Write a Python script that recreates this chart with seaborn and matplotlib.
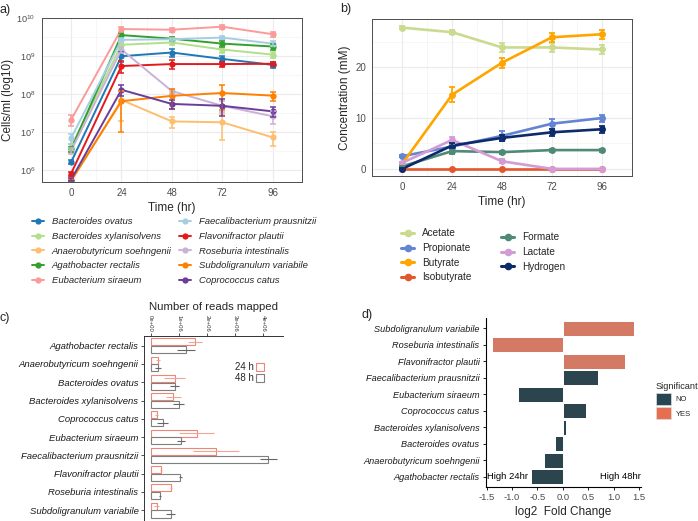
import numpy as np
import pandas as pd
import matplotlib
matplotlib.use('Agg')
import matplotlib.pyplot as plt
import seaborn as sns
from matplotlib.lines import Line2D
from matplotlib.patches import Patch
from matplotlib.ticker import FixedLocator, FuncFormatter, NullFormatter

# ---------------- data ----------------
time_hr = [0, 24, 48, 72, 96]

species_a = ['Bacteroides ovatus', 'Bacteroides xylanisolvens', 'Anaerobutyricum soehngenii',
             'Agathobacter rectalis', 'Eubacterium siraeum', 'Faecalibacterium prausnitzii',
             'Flavonifractor plautii', 'Roseburia intestinalis', 'Subdoligranulum variabile',
             'Coprococcus catus']
colors_a = ['#1F78B4', '#B2DF8A', '#FDBF6F', '#33A02C', '#FB9A99', '#A6CEE3',
            '#E31A1C', '#CAB2D6', '#FF7F00', '#6A3D9A']

cells_b_ovatus = [1.6e6, 1.0e9, 1.25e9, 8.5e8, 5.9e8]
cells_b_xylan = [4.0e6, 2.0e9, 2.3e9, 1.5e9, 1.1e9]
cells_anaero = [5.0e5, 7.0e7, 1.9e7, 1.8e7, 7.2e6]
cells_agatho = [3.5e6, 3.6e9, 2.9e9, 2.15e9, 1.8e9]
cells_eubac = [2.1e7, 5.2e9, 5.0e9, 6.0e9, 3.8e9]
cells_faecali = [6.9e6, 2.7e9, 2.8e9, 3.1e9, 2.15e9]
cells_flavoni = [8.0e5, 5.5e8, 6.2e8, 6.2e8, 6.3e8]
cells_rosebur = [3.2e6, 1.5e9, 1.2e8, 4.9e7, 2.6e7]
cells_subdoli = [5.2e5, 6.5e7, 9.0e7, 1.07e8, 9.1e7]
cells_coproco = [5.5e5, 1.3e8, 5.5e7, 4.9e7, 3.5e7]

sd_b_ovatus = [2e5, 3e8, 3e8, 1.5e8, 1e8]
sd_b_xylan = [8e5, 4e8, 3e8, 3e8, 2e8]
sd_anaero = [1e5, 5e7, 6e6, 1.2e7, 3e6]
sd_agatho = [6e5, 4e8, 4e8, 4e8, 3e8]
sd_eubac = [7e6, 8e8, 6e8, 7e8, 6e8]
sd_faecali = [2e6, 4e8, 3e8, 3e8, 3e8]
sd_flavoni = [1e5, 2e8, 1.5e8, 1e8, 8e7]
sd_rosebur = [5e5, 3e8, 2e7, 1.5e7, 1e7]
sd_subdoli = [5e4, 5.5e7, 5e7, 7e7, 2.5e7]
sd_coproco = [5e4, 4e7, 1.5e7, 2.3e7, 1e7]

metabolites = ['Acetate', 'Propionate', 'Butyrate', 'Isobutyrate', 'Formate', 'Lactate', 'Hydrogen']
colors_b = ['#CADB8F', '#6385D3', '#FFA500', '#E2572B', '#4E8A77', '#D49CD6', '#0D2A6B']
conc_acetate = [27.8, 26.9, 23.9, 23.9, 23.5]
conc_propionate = [2.5, 4.4, 6.5, 8.9, 10.0]
conc_butyrate = [1.0, 14.6, 20.9, 25.9, 26.5]
conc_isobutyrate = [0.0, 0.0, 0.0, 0.0, 0.0]
conc_formate = [0.5, 3.5, 3.3, 3.7, 3.7]
conc_lactate = [1.2, 5.7, 1.5, 0.0, 0.0]
conc_hydrogen = [0.0, 4.6, 6.1, 7.2, 7.8]
sdc_acetate = [0.3, 0.4, 0.8, 0.8, 0.8]
sdc_propionate = [0.2, 0.5, 1.0, 1.0, 0.7]
sdc_butyrate = [0.2, 1.5, 1.0, 0.9, 0.9]
sdc_isobutyrate = [0.0, 0.0, 0.0, 0.0, 0.0]
sdc_formate = [0.1, 0.5, 0.3, 0.3, 0.3]
sdc_lactate = [0.2, 0.6, 0.4, 0.0, 0.0]
sdc_hydrogen = [0.1, 0.5, 0.6, 0.7, 0.7]

species_c = ['Agathobacter rectalis', 'Anaerobutyricum soehngenii', 'Bacteroides ovatus',
             'Bacteroides xylanisolvens', 'Coprococcus catus', 'Eubacterium siraeum',
             'Faecalibacterium prausnitzii', 'Flavonifractor plautii', 'Roseburia intestinalis',
             'Subdoligranulum variabile']
reads_24h = [1.58e6, 0.25e6, 0.85e6, 0.81e6, 0.21e6, 1.64e6, 2.32e6, 0.37e6, 0.71e6, 0.21e6]
reads_48h = [1.25e6, 0.25e6, 0.85e6, 0.99e6, 0.42e6, 1.07e6, 4.18e6, 1.05e6, 0.33e6, 0.71e6]
reads_sd_24h = [0.24e6, 0.07e6, 0.37e6, 0.28e6, 0.05e6, 0.63e6, 0.83e6, 0.03e6, 0.04e6, 0.08e6]
reads_sd_48h = [0.31e6, 0.10e6, 0.15e6, 0.20e6, 0.18e6, 0.15e6, 0.30e6, 0.05e6, 0.02e6, 0.15e6]
time_levels = ['24 h', '48 h']

species_d = ['Subdoligranulum variabile', 'Roseburia intestinalis', 'Flavonifractor plautii',
             'Faecalibacterium prausnitzii', 'Eubacterium siraeum', 'Coprococcus catus',
             'Bacteroides xylanisolvens', 'Bacteroides ovatus', 'Anaerobutyricum soehngenii',
             'Agathobacter rectalis']
log2fc = [1.41, -1.39, 1.22, 0.70, -0.89, 0.46, 0.07, -0.16, -0.37, -0.63]
significant = ['YES', 'YES', 'YES', 'NO', 'NO', 'NO', 'NO', 'NO', 'NO', 'NO']

# ---------------- style ----------------
sns.set_style('white')
plt.rcParams['font.family'] = ['Liberation Sans', 'DejaVu Sans']
plt.rcParams['mathtext.fontset'] = 'custom'
plt.rcParams['mathtext.rm'] = 'Liberation Sans'
plt.rcParams['mathtext.it'] = 'Liberation Sans:italic'

fig = plt.figure(figsize=(6.98, 5.21), dpi=100)
W, H = 698.0, 521.0


def ax_px(l, t, r, b):
    return fig.add_axes([l / W, 1 - b / H, (r - l) / W, (b - t) / H])


def theme_bw(ax):
    for s in ax.spines.values():
        s.set_visible(True)
        s.set_color('#4D4D4D')
        s.set_linewidth(0.7)
    ax.grid(which='major', color='#EBEBEB', lw=0.8)
    ax.grid(which='minor', color='#F3F3F3', lw=0.5)
    ax.set_axisbelow(True)
    ax.tick_params(which='major', length=2.5, width=0.6, color='#333333',
                   labelsize=7, labelcolor='#4D4D4D', pad=2)
    ax.tick_params(which='minor', length=0)


# ---------------- panel a ----------------
axa = ax_px(41.7, 18.3, 302, 182)
cells_all = [cells_b_ovatus, cells_b_xylan, cells_anaero, cells_agatho, cells_eubac,
             cells_faecali, cells_flavoni, cells_rosebur, cells_subdoli, cells_coproco]
sd_all = [sd_b_ovatus, sd_b_xylan, sd_anaero, sd_agatho, sd_eubac,
          sd_faecali, sd_flavoni, sd_rosebur, sd_subdoli, sd_coproco]
df_a = pd.DataFrame({
    'Species': np.repeat(species_a, len(time_hr)),
    'Time': time_hr * len(species_a),
    'Cells': np.concatenate(cells_all),
    'SD': np.concatenate(sd_all),
})
pal_a = dict(zip(species_a, colors_a))
axa.set_yscale('log')
sns.lineplot(data=df_a, x='Time', y='Cells', hue='Species', hue_order=species_a,
             palette=pal_a, marker='o', markersize=4.5, markeredgewidth=0,
             linewidth=1.4, legend=False, errorbar=None, ax=axa)
for sp in species_a:
    sub = df_a[df_a['Species'] == sp]
    axa.errorbar(sub['Time'], sub['Cells'], yerr=sub['SD'], fmt='none',
                 ecolor=pal_a[sp], elinewidth=1.1, capsize=2, capthick=1.1)
axa.set_xlim(-14, 110)
axa.set_ylim(10 ** 5.68, 10 ** 10.0)
axa.set_xticks(time_hr)
axa.xaxis.set_minor_locator(FixedLocator([12, 36, 60, 84]))
axa.yaxis.set_major_locator(FixedLocator([1e6, 1e7, 1e8, 1e9, 1e10]))
axa.yaxis.set_minor_locator(FixedLocator([10 ** 5.5, 10 ** 6.5, 10 ** 7.5, 10 ** 8.5, 10 ** 9.5]))
axa.yaxis.set_minor_formatter(NullFormatter())
theme_bw(axa)
axa.tick_params(axis='y', which='major', labelsize=6.6)
axa.set_xlabel('Time (hr)', fontsize=8.5, labelpad=3)
axa.set_ylabel('Cells/ml (log10)', fontsize=8.5, labelpad=2)

hand_a = [Line2D([], [], color=c, marker='o', lw=1.4, ms=4.5, mew=0) for c in colors_a]
leg_kw = dict(loc='upper left', frameon=False, borderpad=0, handlelength=1.35,
              handletextpad=0.75, labelspacing=0.6, prop={'size': 6.8, 'style': 'italic'})
fig.legend(hand_a[:5], species_a[:5], bbox_to_anchor=(27 / W, 1 - 212.5 / H), **leg_kw)
fig.legend(hand_a[5:], species_a[5:], bbox_to_anchor=(174 / W, 1 - 212.5 / H), **leg_kw)

# ---------------- panel b ----------------
axb = ax_px(372.3, 19, 631.7, 176)
conc_all = [conc_acetate, conc_propionate, conc_butyrate, conc_isobutyrate,
            conc_formate, conc_lactate, conc_hydrogen]
sdc_all = [sdc_acetate, sdc_propionate, sdc_butyrate, sdc_isobutyrate,
           sdc_formate, sdc_lactate, sdc_hydrogen]
df_b = pd.DataFrame({
    'Metabolite': np.repeat(metabolites, len(time_hr)),
    'Time': time_hr * len(metabolites),
    'Conc': np.concatenate(conc_all),
    'SD': np.concatenate(sdc_all),
})
pal_b = dict(zip(metabolites, colors_b))
sns.lineplot(data=df_b, x='Time', y='Conc', hue='Metabolite', hue_order=metabolites,
             palette=pal_b, marker='o', markersize=5, markeredgewidth=0,
             linewidth=1.9, legend=False, errorbar=None, ax=axb)
for m in metabolites:
    sub = df_b[df_b['Metabolite'] == m]
    axb.errorbar(sub['Time'], sub['Conc'], yerr=sub['SD'], fmt='none',
                 ecolor=pal_b[m], elinewidth=1.3, capsize=2.2, capthick=1.3)
axb.set_xlim(-14.4, 110.4)
axb.set_ylim(-1.4, 29.5)
axb.set_xticks(time_hr)
axb.set_yticks([0, 10, 20])
axb.xaxis.set_minor_locator(FixedLocator([12, 36, 60, 84]))
axb.yaxis.set_minor_locator(FixedLocator([5, 15, 25]))
theme_bw(axb)
axb.set_xlabel('Time (hr)', fontsize=8.5, labelpad=3)
axb.set_ylabel('Concentration (mM)', fontsize=8.5, labelpad=3)

hand_b = [Line2D([], [], color=c, marker='o', lw=2.2, ms=5.5, mew=0) for c in colors_b]
legb_kw = dict(loc='upper left', frameon=False, borderpad=0, handlelength=1.3,
               handletextpad=0.8, labelspacing=0.45, fontsize=7.2)
fig.legend(hand_b[:4], metabolites[:4], bbox_to_anchor=(396 / W, 1 - 223.5 / H), **legb_kw)
fig.legend(hand_b[4:], metabolites[4:], bbox_to_anchor=(496 / W, 1 - 227.5 / H), **legb_kw)

# ---------------- panel c ----------------
axc = ax_px(144, 335.7, 282.7, 521)
df_c = pd.DataFrame({
    'Species': species_c * 2,
    'Time': [time_levels[0]] * len(species_c) + [time_levels[1]] * len(species_c),
    'Reads': reads_24h + reads_48h,
})
pal_c = {'24 h': '#EF8576', '48 h': '#7F7F7F'}
err_c = {'24 h': '#F4A497', '48 h': '#666666'}
sns.barplot(data=df_c, y='Species', x='Reads', hue='Time', hue_order=time_levels,
            order=species_c, palette=pal_c, fill=False, width=0.86, gap=0.1,
            linewidth=0.8, errorbar=None, legend=False, ax=axc)
for cont, lvl, errs in zip(axc.containers, time_levels, [reads_sd_24h, reads_sd_48h]):
    for bar, e in zip(cont, errs):
        yc = bar.get_y() + bar.get_height() / 2
        axc.errorbar(bar.get_width(), yc, xerr=e, fmt='none', ecolor=err_c[lvl],
                     elinewidth=0.8, capsize=0)
axc.set_xlim(-0.24e6, 4.7e6)
axc.set_ylim(9.6, -0.55)
axc.set_xticks([0, 1e6, 2e6, 3e6, 4e6])
axc.xaxis.set_major_formatter(FuncFormatter(lambda v, p: f'{v:.0e}'))
axc.xaxis.tick_top()
axc.xaxis.set_label_position('top')
for s in ['bottom', 'right']:
    axc.spines[s].set_visible(False)
for s in ['left', 'top']:
    axc.spines[s].set_visible(True)
    axc.spines[s].set_color('#333333')
    axc.spines[s].set_linewidth(0.7)
axc.tick_params(axis='x', labelsize=4.3, labelrotation=-90, length=2, width=0.6,
                color='#333333', labelcolor='#333333', pad=1, top=True, bottom=False)
axc.tick_params(axis='y', labelsize=6.8, length=2, width=0.6, color='#333333',
                labelcolor='#1A1A1A', pad=2, left=True)
for t in axc.get_yticklabels():
    t.set_fontstyle('italic')
axc.set_ylabel('')
axc.set_xlabel('Number of reads mapped', fontsize=8.2, labelpad=3)
hand_c = [Patch(facecolor='white', edgecolor=pal_c[l], lw=0.8) for l in time_levels]
axc.legend(hand_c, time_levels, loc='center', bbox_to_anchor=(0.76, 0.80), frameon=False,
           markerfirst=False, fontsize=7, handlelength=0.8, handleheight=0.8,
           handletextpad=0.3, labelspacing=0.1, borderpad=0)

# ---------------- panel d ----------------
axd = ax_px(485.7, 317.7, 641, 487.3)
df_d = pd.DataFrame({'Species': species_d, 'log2FC': log2fc, 'Significant': significant})
pal_d = {'NO': '#264653', 'YES': '#E76F51'}
sns.barplot(data=df_d, y='Species', x='log2FC', hue='Significant', hue_order=['NO', 'YES'],
            order=species_d, palette=pal_d, dodge=False, width=0.9, edgecolor='white',
            linewidth=0.7, errorbar=None, legend=False, ax=axd)
axd.set_xlim(-1.52, 1.54)
axd.set_ylim(9.64, -0.65)
axd.set_xticks([-1.5, -1.0, -0.5, 0.0, 0.5, 1.0, 1.5])
axd.xaxis.set_major_formatter(FuncFormatter(lambda v, p: f'{v:.1f}'.replace('\u2212', '-')))
for s in ['top', 'right']:
    axd.spines[s].set_visible(False)
for s in ['left', 'bottom']:
    axd.spines[s].set_visible(True)
    axd.spines[s].set_color('black')
    axd.spines[s].set_linewidth(0.8)
axd.tick_params(axis='x', labelsize=6.8, labelcolor='#4D4D4D', length=2.5, width=0.6,
                color='black', pad=1.5, bottom=True)
axd.tick_params(axis='y', labelsize=6.6, labelcolor='#1A1A1A', length=2.5, width=0.6,
                color='black', pad=2, left=True)
for t in axd.get_yticklabels():
    t.set_fontstyle('italic')
axd.set_ylabel('')
axd.set_xlabel('log2  Fold Change', fontsize=8.5, labelpad=3)
axd.text(-1.5, species_d.index('Agathobacter rectalis'), 'High 24hr', ha='left',
         va='center', fontsize=6.8, color='black')
axd.text(1.53, species_d.index('Agathobacter rectalis'), 'High 48hr', ha='right',
         va='center', fontsize=6.8, color='black')
hand_d = [Patch(facecolor=pal_d[k], edgecolor='#DDDDDD', lw=0.5) for k in ['NO', 'YES']]
fig.legend(hand_d, ['NO', 'YES'], title='Significant', loc='upper left',
           bbox_to_anchor=(652 / W, 1 - 378 / H), frameon=False, fontsize=5.5,
           title_fontsize=6.6, handlelength=2.0, handleheight=2.0, handletextpad=0.6,
           labelspacing=0.3, borderpad=0, alignment='left')

# ---------------- panel labels ----------------
fig.text(0 / W, 1 - 10 / H, 'a)', fontsize=9, va='center', ha='left')
fig.text(340 / W, 1 - 9 / H, 'b)', fontsize=9, va='center', ha='left')
fig.text(0 / W, 1 - 318 / H, 'c)', fontsize=9, va='center', ha='left')
fig.text(361 / W, 1 - 315 / H, 'd)', fontsize=9, va='center', ha='left')

fig.savefig('out.png', dpi=100)
